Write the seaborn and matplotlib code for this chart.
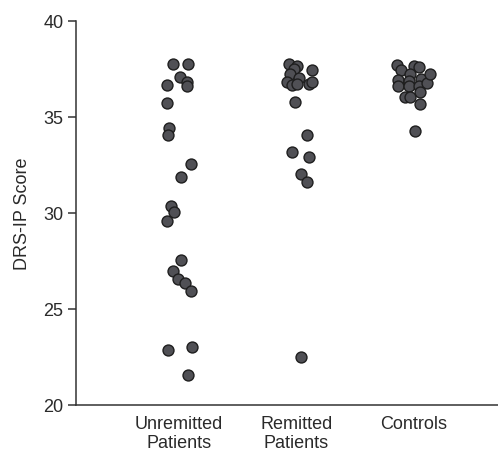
import numpy as np
import pandas as pd
import matplotlib
matplotlib.use("Agg")
import matplotlib.pyplot as plt
import seaborn as sns

# groups and scores
groups = ["Unremitted\nPatients", "Remitted\nPatients", "Controls"]

unremitted = [37.76, 37.76, 37.07, 36.84, 36.60, 36.67, 35.71, 34.43, 34.06, 32.55,
              31.89, 30.35, 30.04, 29.60, 27.57, 27.00, 26.56, 26.34, 25.95, 22.88,
              23.04, 21.58]
unremitted_jit = [-0.049, 0.079, 0.009, 0.066, 0.071, -0.105, -0.105, -0.085, -0.096, 0.102,
                  0.014, -0.068, -0.040, -0.100, 0.014, -0.054, -0.011, 0.051, 0.100, -0.091,
                  0.108, 0.074]

remitted = [37.76, 37.66, 37.45, 37.50, 37.24, 37.03, 36.82, 36.67, 36.72, 36.72,
            36.82, 35.78, 34.06, 33.18, 32.92, 32.03, 31.61, 22.50]
remitted_jit = [-0.064, 0.004, 0.132, -0.021, -0.055, 0.021, -0.081, -0.038, 0.004, 0.106,
                0.132, -0.013, 0.089, -0.038, 0.106, 0.038, 0.089, 0.038]

controls = [37.71, 37.45, 37.66, 37.60, 37.24, 36.98, 36.93, 36.88, 36.61, 36.61,
            36.61, 36.77, 36.30, 36.04, 36.04, 35.68, 34.27, 37.24]
controls_jit = [-0.145, -0.111, 0.000, 0.043, -0.034, 0.060, -0.136, -0.043, -0.136, -0.043,
                0.043, 0.111, 0.051, -0.077, -0.034, 0.051, 0.009, 0.136]

rows = []
for i, (vals, jit) in enumerate([(unremitted, unremitted_jit),
                                 (remitted, remitted_jit),
                                 (controls, controls_jit)]):
    for v, j in zip(vals, jit):
        rows.append({"pos": i + j, "score": v})
df = pd.DataFrame(rows)

sns.set_style("ticks")
plt.rcParams['font.family'] = ['Liberation Sans', 'DejaVu Sans']

fig, ax = plt.subplots(figsize=(4.98, 4.52), dpi=100)
fig.subplots_adjust(left=76/498, right=1.0, bottom=1-406/452, top=1-22/452)

sns.scatterplot(data=df, x="pos", y="score", s=62, color="#505055",
                edgecolor="#1e1e1e", linewidth=1.0, ax=ax, legend=False, zorder=3,
                clip_on=False)

ax.set_xlim(-0.877, 2.715)
ax.set_ylim(20, 40)
ax.set_yticks([20, 25, 30, 35, 40])
ax.set_xticks([0, 1, 2])
ax.set_xticklabels(groups)
ax.set_xlabel("")
ax.set_ylabel("DRS-IP Score", fontsize=13, color="#2a2a2a", labelpad=9)

for side in ["top", "right"]:
    ax.spines[side].set_visible(False)
for side in ["left", "bottom"]:
    ax.spines[side].set_color("#333333")
    ax.spines[side].set_linewidth(1.1)

ax.tick_params(axis="y", length=6, width=1.1, color="#333333", labelsize=13,
               labelcolor="#2a2a2a", pad=3)
ax.tick_params(axis="x", length=0, labelsize=13, labelcolor="#2a2a2a", pad=7)

fig.savefig("out.png", dpi=100)
